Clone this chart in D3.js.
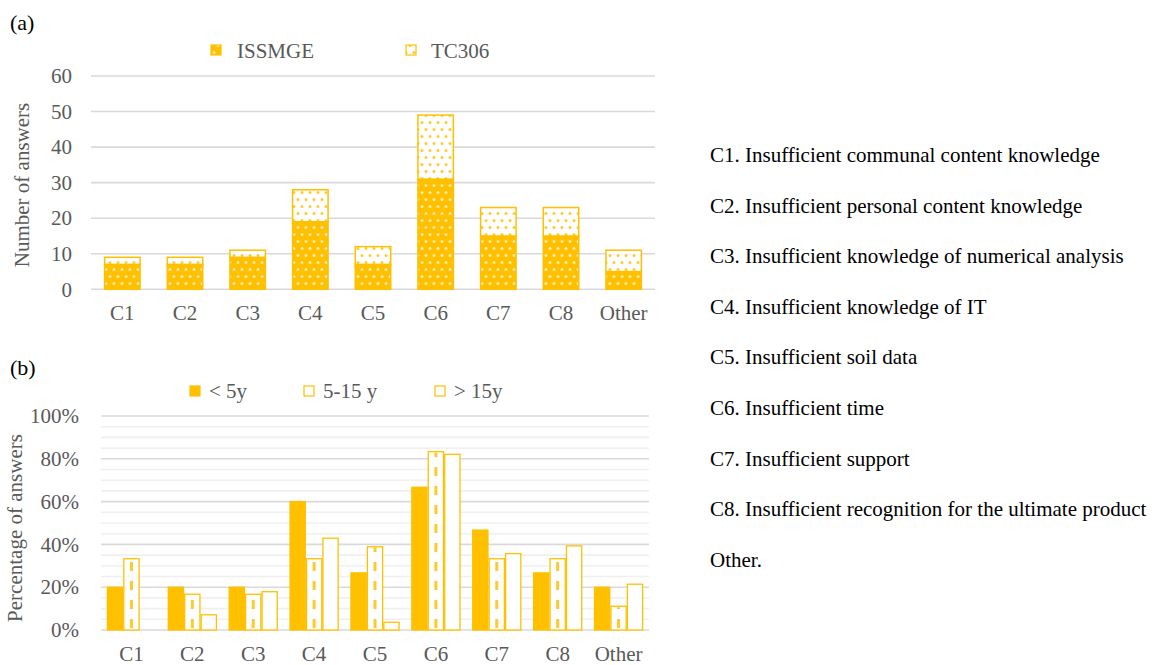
<!DOCTYPE html>
<html>
<head>
<meta charset="utf-8">
<script src="https://cdn.jsdelivr.net/npm/d3@7/dist/d3.min.js"></script>
<style>
  html, body { margin: 0; padding: 0; background: #fff; }
  svg { display: block; }
  svg text { font-family: "Liberation Serif", "Times New Roman", Tinos, "DejaVu Serif", serif !important; }
</style>
</head>
<body>
<svg id="fig" width="1161" height="665"></svg>
<script>
// ---- data ----
const categories = ["C1", "C2", "C3", "C4", "C5", "C6", "C7", "C8", "Other"];

// (a) number of answers, stacked
const issmge = [7, 7, 9, 19, 7, 31, 15, 15, 5];
const tc306  = [2, 2, 2, 9, 5, 18, 8, 8, 6];
const countTicks = [0, 10, 20, 30, 40, 50, 60];

// (b) share of answers by years of experience
const lt5    = [0.200, 0.200, 0.200, 0.600, 0.267, 0.667, 0.467, 0.267, 0.200];
const y5to15 = [0.333, 0.167, 0.167, 0.333, 0.389, 0.833, 0.333, 0.333, 0.111];
const gt15   = [0.000, 0.071, 0.179, 0.429, 0.036, 0.821, 0.357, 0.393, 0.214];
const pctTicks = [0, 0.2, 0.4, 0.6, 0.8, 1.0];
const pctMinor = [0.05, 0.1, 0.15, 0.25, 0.3, 0.35, 0.45, 0.5, 0.55, 0.65, 0.7, 0.75, 0.85, 0.9, 0.95];

const experienceSeries = ["< 5y", "5-15 y", "> 15y"];

const descriptions = [
  "C1. Insufficient communal content knowledge",
  "C2. Insufficient personal content knowledge",
  "C3. Insufficient knowledge of numerical analysis",
  "C4. Insufficient knowledge of IT",
  "C5. Insufficient soil data",
  "C6. Insufficient time",
  "C7. Insufficient support",
  "C8. Insufficient recognition for the ultimate product",
  "Other."
];

// ---- styling ----
const ORANGE = "#FFC000";
const GRID = "#d9d9d9";
const GRID_MINOR = "#f0f0f0";
const TICK_TEXT = "#595959";
const FS = 21;
const SERIF = '"Liberation Serif", "Times New Roman", Tinos, "DejaVu Serif", serif';

const svg = d3.select("#fig");
const defs = svg.append("defs");

// dotted fills: light dots on orange, orange dots on white
function dotPattern(id, bg, dot) {
  const p = defs.append("pattern")
    .attr("id", id).attr("patternUnits", "userSpaceOnUse")
    .attr("width", 8).attr("height", 14);
  p.append("rect").attr("width", 8).attr("height", 14).attr("fill", bg);
  [[2, 3.5], [6, 10.5]].forEach(([cx, cy]) => {
    p.append("circle").attr("cx", cx).attr("cy", cy).attr("r", 1.5).attr("fill", dot);
  });
}
dotPattern("dotsSolid", ORANGE, "#ffe9a8");
dotPattern("dotsOpen", "#ffffff", "#ffcc33");

function styleTicks(sel) {
  sel.select(".domain").remove();
  sel.attr("font-family", SERIF);
  sel.selectAll("text").attr("font-size", FS).attr("fill", TICK_TEXT);
}

// ================= (a) =================
const xa = d3.scaleBand().domain(categories).range([91, 655]).paddingInner(0.41).paddingOuter(0.205);
const ya = d3.scaleLinear().domain([0, 60]).range([289.3, 76]);

const ga = svg.append("g");

ga.append("g").selectAll("line").data(countTicks).join("line")
  .attr("x1", 91).attr("x2", 655)
  .attr("y1", d => ya(d)).attr("y2", d => ya(d))
  .attr("stroke", GRID).attr("stroke-width", 1.6);

ga.append("g").attr("transform", "translate(72,0)")
  .call(d3.axisLeft(ya).tickValues(countTicks).tickSize(0).tickPadding(0))
  .call(styleTicks);

ga.append("g").attr("transform", "translate(0,305)")
  .call(d3.axisBottom(xa).tickSize(0).tickPadding(0))
  .call(styleTicks);

const stackedRows = categories.map((c, i) => ({ cat: c, ISSMGE: issmge[i], TC306: tc306[i] }));
const stackA = d3.stack().keys(["ISSMGE", "TC306"])(stackedRows);
const fillsA = { ISSMGE: "url(#dotsSolid)", TC306: "url(#dotsOpen)" };

ga.append("g").selectAll("g").data(stackA).join("g")
  .attr("fill", d => fillsA[d.key])
  .selectAll("rect").data(d => d).join("rect")
  .attr("x", d => xa(d.data.cat) + 0.75)
  .attr("width", xa.bandwidth() - 1.5)
  .attr("y", d => ya(d[1]))
  .attr("height", d => ya(d[0]) - ya(d[1]))
  .attr("stroke", ORANGE).attr("stroke-width", 1.5);

// legend (a)
const legA = [
  { label: "ISSMGE", fill: "url(#dotsSolid)", sx: 211, tx: 237 },
  { label: "TC306", fill: "url(#dotsOpen)", sx: 406, tx: 431 }
];
legA.forEach(l => {
  ga.append("rect").attr("x", l.sx).attr("y", 45).attr("width", 10).attr("height", 10)
    .attr("fill", l.fill).attr("stroke", ORANGE).attr("stroke-width", 1.2);
  ga.append("text").attr("x", l.tx).attr("y", 57.5).attr("font-size", FS)
    .attr("fill", TICK_TEXT).text(l.label);
});

ga.append("text").attr("transform", "translate(29,185) rotate(-90)")
  .attr("text-anchor", "middle").attr("font-size", FS).attr("fill", TICK_TEXT)
  .text("Number of answers");

svg.append("text").attr("x", 10).attr("y", 30).attr("font-size", 22).attr("fill", "#000").text("(a)");

// ================= (b) =================
const xb = d3.scaleBand().domain(categories).range([101, 649]).paddingInner(0.19).paddingOuter(0.095);
const xbInner = d3.scaleBand().domain(experienceSeries).range([0, xb.bandwidth()]);
const yb = d3.scaleLinear().domain([0, 1]).range([630, 416]);

const gb = svg.append("g");

gb.append("g").selectAll("line").data(pctMinor).join("line")
  .attr("x1", 101).attr("x2", 649)
  .attr("y1", d => yb(d)).attr("y2", d => yb(d))
  .attr("stroke", GRID_MINOR).attr("stroke-width", 1.6);
gb.append("g").selectAll("line").data(pctTicks).join("line")
  .attr("x1", 101).attr("x2", 649)
  .attr("y1", d => yb(d)).attr("y2", d => yb(d))
  .attr("stroke", GRID).attr("stroke-width", 1.6);

gb.append("g").attr("transform", "translate(79,0)")
  .call(d3.axisLeft(yb).tickValues(pctTicks).tickSize(0).tickPadding(0).tickFormat(d3.format(".0%")))
  .call(styleTicks);

gb.append("g").attr("transform", "translate(0,646)")
  .call(d3.axisBottom(xb).tickSize(0).tickPadding(0))
  .call(styleTicks);

const seriesB = [
  { key: "< 5y", values: lt5, fill: ORANGE, dashed: false },
  { key: "5-15 y", values: y5to15, fill: "#ffffff", dashed: true },
  { key: "> 15y", values: gt15, fill: "#ffffff", dashed: false }
];

seriesB.forEach(s => {
  const rows = categories.map((c, i) => ({ cat: c, v: s.values[i] }));
  const g = gb.append("g");
  g.selectAll("rect").data(rows.filter(r => r.v > 0)).join("rect")
    .attr("x", d => xb(d.cat) + xbInner(s.key) + 0.6)
    .attr("width", xbInner.bandwidth() - 1.2)
    .attr("y", d => yb(d.v))
    .attr("height", d => yb(0) - yb(d.v))
    .attr("fill", s.fill)
    .attr("stroke", ORANGE).attr("stroke-width", 1.3);
  if (s.dashed) {
    g.selectAll("line").data(rows).join("line")
      .attr("x1", d => xb(d.cat) + xbInner(s.key) + xbInner.bandwidth() / 2)
      .attr("x2", d => xb(d.cat) + xbInner(s.key) + xbInner.bandwidth() / 2)
      .attr("y1", yb(0) - 2)
      .attr("y2", d => yb(d.v) + 1)
      .attr("stroke", "#ffc933").attr("stroke-width", 3)
      .attr("stroke-dasharray", "9,10");
  }
});

// legend (b)
const legB = [
  { sx: 190, tx: 209 },
  { sx: 304, tx: 323 },
  { sx: 435, tx: 454 }
];
seriesB.forEach((s, i) => {
  gb.append("rect").attr("x", legB[i].sx).attr("y", 386).attr("width", 10).attr("height", 10)
    .attr("fill", s.fill).attr("stroke", ORANGE).attr("stroke-width", 1.2);
  gb.append("text").attr("x", legB[i].tx).attr("y", 398).attr("font-size", FS)
    .attr("fill", TICK_TEXT).text(s.key);
});

gb.append("text").attr("transform", "translate(22,528) rotate(-90)")
  .attr("text-anchor", "middle").attr("font-size", FS).attr("fill", TICK_TEXT)
  .text("Percentage of answers");

svg.append("text").attr("x", 10).attr("y", 375).attr("font-size", 22).attr("fill", "#000").text("(b)");

// ================= category key =================
svg.append("g").selectAll("text").data(descriptions).join("text")
  .attr("x", 710)
  .attr("y", (d, i) => 162 + i * 50.6)
  .attr("font-size", FS).attr("fill", "#000")
  .text(d => d);
</script>
</body>
</html>
